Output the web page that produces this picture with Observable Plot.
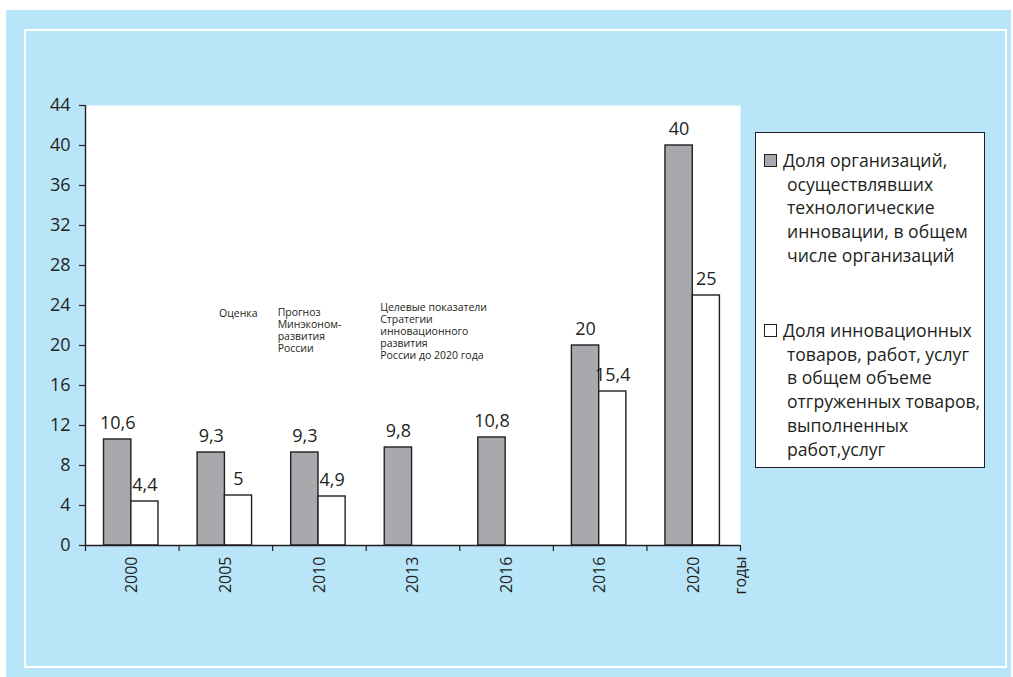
<!DOCTYPE html>
<html>
<head>
<meta charset="utf-8">
<script src="https://cdn.jsdelivr.net/npm/d3@7"></script>
<script src="https://cdn.jsdelivr.net/npm/@observablehq/plot@0.6"></script>
<style>
  html, body { margin: 0; padding: 0; background: #ffffff; }
  #wrap { position: relative; width: 1013px; height: 677px; overflow: hidden; font-family: "Open Sans", sans-serif; color: #231f20; }
  #blue { position: absolute; left: 6px; top: 10px; width: 1005px; height: 667px; background: #b9e5f9; }
  #inner { position: absolute; left: 24px; top: 29px; width: 979px; height: 635px; border: 2px solid #ffffff; }
  #chart { position: absolute; left: 0; top: 0; }
  #legend { position: absolute; left: 755px; top: 132px; width: 228px; height: 334px; background: #fff; border: 1.5px solid #231f20; }
  .item { position: absolute; left: 8px; font-size: 17.6px; line-height: 23.7px; }
  .sw { position: absolute; left: 0; top: 5px; width: 11px; height: 11px; border: 1px solid #231f20; }
  .txt { position: absolute; left: 19px; white-space: nowrap; }
  .txt span { display: block; padding-left: 4px; }
  .txt span:first-child { padding-left: 0; }
</style>
</head>
<body>
<div id="wrap">
  <div id="blue"></div>
  <div id="inner"></div>
  <div id="chart"></div>
  <div id="legend"></div>
</div>
<script>
// ---- data ----
const categories = ["2000", "2005", "2010", "2013", "2016", "2016", "2020"];
const orgShare = [10.6, 9.3, 9.3, 9.8, 10.8, 20, 40];          // Доля организаций, осуществлявших технологические инновации
const productShare = [4.4, 5, 4.9, null, null, 15.4, 25];      // Доля инновационных товаров, работ, услуг
const yTicks = [0, 4, 8, 12, 16, 20, 24, 28, 32, 36, 40, 44];
const axisLabel = "годы";
const seriesNames = [
  ["Доля организаций,", "осуществлявших", "технологические", "инновации, в общем", "числе организаций"],
  ["Доля инновационных", "товаров, работ, услуг", "в общем объеме", "отгруженных товаров,", "выполненных", "работ,услуг"]
];
const seriesColors = ["#a7a9ac", "#ffffff"];
const notes = [
  {cat: 1, text: "Оценка"},
  {cat: 2, text: "Прогноз\nМинэконом-\nразвития\nРоссии"},
  {cat: 3, text: "Целевые показатели\nСтратегии\nинновационного\nразвития\nРоссии до 2020 года"}
];

const fmt = v => String(v).replace(".", ",");
const rows = categories.map((c, i) => ({i, cat: c, org: orgShare[i], prod: productShare[i]}));
const prodRows = rows.filter(d => d.prod != null);
const ink = "#231f20";

// bar placement inside each category slot (fractions of slot)
const g0 = 0.198, g1 = 0.49, w1 = 0.78;

const chart = Plot.plot({
  width: 1013,
  height: 677,
  marginLeft: 85,
  marginRight: 273,
  marginTop: 105,
  marginBottom: 132,
  style: {background: "transparent", fontFamily: "Open Sans, sans-serif", color: ink, overflow: "visible"},
  x: {domain: [0, categories.length], axis: null},
  y: {domain: [0, 44], axis: null},
  marks: [
    Plot.frame({fill: "#ffffff", stroke: null}),
    Plot.axisY({ticks: yTicks, tickSize: 6, tickPadding: 9, fontSize: 18, label: null, stroke: ink, strokeWidth: 1.2}),
    Plot.axisX({ticks: d3.range(categories.length + 1), tickSize: 6, tickFormat: () => "", label: null, stroke: ink, strokeWidth: 1.2}),
    Plot.rectY(rows, {x1: d => d.i + g0, x2: d => d.i + g1, y1: 0, y2: "org", fill: seriesColors[0], stroke: ink, strokeWidth: 1.4}),
    Plot.rectY(prodRows, {x1: d => d.i + g1, x2: d => d.i + w1, y1: 0, y2: "prod", fill: seriesColors[1], stroke: ink, strokeWidth: 1.4}),
    Plot.ruleX([0], {stroke: ink, strokeWidth: 1.4}),
    Plot.ruleY([0], {stroke: ink, strokeWidth: 1.4}),
    Plot.text(rows, {x: d => d.i + (g0 + g1) / 2, y: "org", text: d => fmt(d.org), dy: -16, fontSize: 18, fill: ink}),
    Plot.text(prodRows, {x: d => d.i + (g1 + w1) / 2, y: "prod", text: d => fmt(d.prod), dy: -16, fontSize: 18, fill: ink}),
    Plot.text(rows, {x: d => d.i + 0.5, y: 0, text: "cat", rotate: -90, textAnchor: "end", lineAnchor: "middle", dy: 11, fontSize: 16, fill: ink}),
    Plot.text([axisLabel], {x: categories.length, y: 0, text: d => d, rotate: -90, textAnchor: "end", lineAnchor: "middle", dy: 11, fontSize: 16, fill: ink}),
    Plot.text(notes.filter(d => d.cat === 1), {x: "cat", y: 23.2, text: "text", textAnchor: "start", lineAnchor: "middle", dx: 40, fontSize: 10.5, fill: ink}),
    Plot.text(notes.filter(d => d.cat === 2), {x: "cat", y: 23.2, text: "text", textAnchor: "start", lineAnchor: "top", dx: 5, dy: -6, lineHeight: 1.15, fontSize: 10.5, fill: ink}),
    Plot.text(notes.filter(d => d.cat === 3), {x: "cat", y: 23.2, text: "text", textAnchor: "start", lineAnchor: "top", dx: 14, dy: -11, lineHeight: 1.15, fontSize: 10.5, fill: ink})
  ]
});
document.getElementById("chart").appendChild(chart);

// legend
const legend = document.getElementById("legend");
const tops = [16, 186];
seriesNames.forEach((lines, k) => {
  const item = document.createElement("div");
  item.className = "item";
  item.style.top = tops[k] + "px";
  const sw = document.createElement("div");
  sw.className = "sw";
  sw.style.background = seriesColors[k];
  item.appendChild(sw);
  const txt = document.createElement("div");
  txt.className = "txt";
  lines.forEach(l => { const s = document.createElement("span"); s.textContent = l; txt.appendChild(s); });
  item.appendChild(txt);
  legend.appendChild(item);
});
</script>
</body>
</html>
